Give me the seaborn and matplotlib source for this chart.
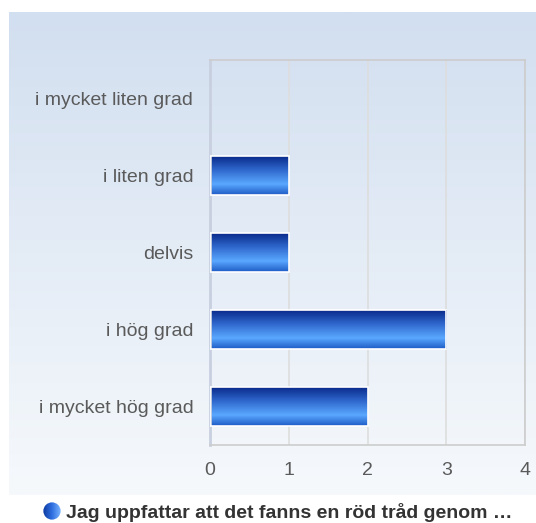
import numpy as np
import pandas as pd
import matplotlib
matplotlib.use("Agg")
import matplotlib.pyplot as plt
from matplotlib.colors import LinearSegmentedColormap
from matplotlib.patches import Circle
import seaborn as sns

# data
categories = ['i mycket liten grad', 'i liten grad', 'delvis', 'i hög grad', 'i mycket hög grad']
counts = [0, 1, 1, 3, 2]
x_ticks = [0, 1, 2, 3, 4]
series_name = 'Jag uppfattar att det fanns en röd tråd genom …'

df = pd.DataFrame({'kategori': categories, 'antal': counts})

sns.set_theme(style="white")
plt.rcParams['font.family'] = ['Liberation Sans', 'DejaVu Sans']

W, H = 536, 523
fig = plt.figure(figsize=(W / 100, H / 100), dpi=100)
fig.patch.set_facecolor('white')

# light blue gradient panel behind the chart
bg = fig.add_axes([9 / W, 1 - 495 / H, 1 - 9 / W, (495 - 12) / H], zorder=-10)
bg_cmap = LinearSegmentedColormap.from_list('bg', ['#d2dff0', '#f6f9fc'])
bg.imshow(np.linspace(0, 1, 256).reshape(-1, 1), cmap=bg_cmap, aspect='auto',
          extent=(0, 1, 0, 1), origin='upper')
bg.set_axis_off()

ax = fig.add_axes([210 / W, 1 - 445 / H, 315 / W, 385 / H])
ax.patch.set_alpha(0)

sns.barplot(data=df, x='antal', y='kategori', order=categories, orient='h',
            width=0.5, color='#2a6ad6', ax=ax)

bar_cmap = LinearSegmentedColormap.from_list(
    'bar', [(0.0, '#0a2b8c'), (0.35, '#2f67cc'), (0.72, '#5aa8ff'), (1.0, '#1f5cc6')])
grad = np.linspace(0, 1, 64).reshape(-1, 1)
for p in ax.patches:
    if p.get_width() <= 0:
        continue
    x0, y0 = p.get_x(), p.get_y()
    w, h = p.get_width(), p.get_height()
    img = ax.imshow(grad, cmap=bar_cmap, aspect='auto', origin='upper',
                    extent=(x0, x0 + w, y0 + h, y0), zorder=2)
    img.set_clip_path(p)
    p.set_facecolor('none')
    p.set_edgecolor('white')
    p.set_linewidth(1.2)
    p.set_zorder(3)

ax.set_xlim(0, 4)
ax.set_ylim(len(categories) - 0.5, -0.5)
ax.set_xticks(x_ticks)
ax.set_xticklabels([str(t) for t in x_ticks])
ax.set_xlabel('')
ax.set_ylabel('')
ax.tick_params(axis='both', length=0, labelsize=14, labelcolor='#5a5a5a')
ax.tick_params(axis='y', pad=12)
ax.tick_params(axis='x', pad=12)

ax.grid(axis='x', color='#dddddd', linewidth=1.2)
ax.set_axisbelow(True)
for s in ax.spines.values():
    s.set_color('#cccccc')
    s.set_linewidth(1.2)
ax.spines['left'].set_color('#c8d0e0')
ax.spines['left'].set_linewidth(2)

# legend: gradient ball + bold series name
icon = fig.add_axes([43 / W, 1 - 520 / H, 18 / W, 18 / H])
icon.set_xlim(0, 1)
icon.set_ylim(0, 1)
icon.set_axis_off()
ball_cmap = LinearSegmentedColormap.from_list('ball', ['#0c3aa0', '#2f6fe0', '#7ab4ff'])
ball = icon.imshow(np.linspace(0, 1, 64).reshape(1, -1), cmap=ball_cmap, aspect='auto',
                   extent=(0, 1, 0, 1))
circ = Circle((0.5, 0.5), 0.48, transform=icon.transData, facecolor='none', edgecolor='none')
icon.add_patch(circ)
ball.set_clip_path(circ)

fig.text(66 / W, 1 - 512 / H, series_name, ha='left', va='center', fontsize=14,
         fontweight='bold', color='#333333')

fig.savefig('out.png', dpi=100)
